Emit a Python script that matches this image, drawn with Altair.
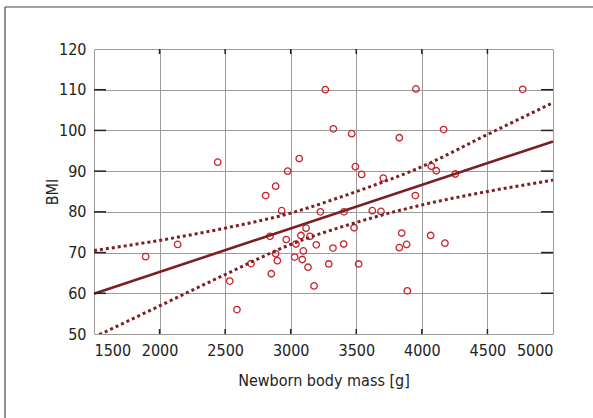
import altair as alt
import pandas as pd

# Newborn body mass [g] and BMI for each subject
mass = [3264, 3325, 2443, 3065, 2977, 2885, 3955, 4769, 3465, 3828,
        4166, 3493, 3541, 3706, 4072, 4110, 4255, 2809, 2931, 3226,
        3117, 3078, 3147, 2842, 2966, 2138, 3040, 3195, 3322, 3096,
        2885, 1894, 3030, 3088, 2898, 2697, 3290, 3132, 2852, 2535,
        3178, 2590, 3950, 3406, 3622, 3688, 3483, 3846, 4067, 3404,
        3828, 3884, 4176, 3518, 3889]
bmi = [110.0, 100.4, 92.2, 93.1, 90.0, 86.3, 110.2, 110.1, 99.2, 98.2,
       100.2, 91.1, 89.2, 88.3, 91.2, 90.1, 89.3, 84.0, 80.3, 80.0,
       76.0, 74.2, 74.0, 74.0, 73.2, 72.0, 72.1, 71.9, 71.1, 70.4,
       69.7, 69.0, 68.9, 68.3, 68.0, 67.3, 67.2, 66.4, 64.8, 63.0,
       61.8, 56.0, 84.0, 80.0, 80.3, 80.1, 76.1, 74.8, 74.2, 72.1,
       71.2, 72.0, 72.3, 67.2, 60.6]

# Fitted regression line (end points)
fit_x = [1500, 5000]
fit_y = [59.9, 97.3]

# Confidence band read at each grid position
band_x = [1500, 2000, 2500, 3000, 3500, 4000, 4500, 5000]
band_upper = [70.5, 73.0, 76.0, 79.7, 85.0, 91.1, 99.0, 106.8]
band_lower = [49.2, 56.9, 64.6, 72.0, 77.4, 81.7, 85.0, 87.8]

x_ticks = [1500, 2000, 2500, 3000, 3500, 4000, 4500, 5000]
y_ticks = [50, 60, 70, 80, 90, 100, 110, 120]

FONT = "'DejaVu Sans Condensed', 'Liberation Sans Narrow', 'Noto Sans', sans-serif"
FS = 16
W, H = 459, 285
PAD_L, PAD_T = 94, 49

pts = pd.DataFrame({"mass": mass, "bmi": bmi})
fit = pd.DataFrame({"mass": fit_x, "bmi": fit_y})
band = pd.DataFrame({"mass": band_x, "up": band_upper, "lo": band_lower})
xt = pd.DataFrame({"v": x_ticks[1:-1]})
yt = pd.DataFrame({"v": y_ticks[1:-1]})
one = pd.DataFrame({"k": [0]})

xscale = alt.Scale(domain=[1500, 5000], nice=False, zero=False)
yscale = alt.Scale(domain=[50, 120], nice=False, zero=False)

x_axis = alt.Axis(values=x_ticks, format="d", grid=True, gridColor="#9c9c9c",
                  gridWidth=1, domain=False, ticks=False, labelPadding=8,
                  labelFont=FONT, labelFontSize=FS, labelColor="#222",
                  title="Newborn body mass [g]", titleFont=FONT,
                  titleFontSize=FS, titleFontWeight="normal", titleColor="#222",
                  titleY=46, titleBaseline="middle")
y_axis = alt.Axis(values=y_ticks, format="d", grid=True, gridColor="#9c9c9c",
                  gridWidth=1, domain=False, ticks=False, labelPadding=8,
                  labelFont=FONT, labelFontSize=FS, labelColor="#222",
                  title="BMI", titleFont=FONT, titleFontSize=FS,
                  titleFontWeight="normal", titleColor="#222",
                  titleX=-42, titleY=H / 2, titleBaseline="middle",
                  titleAlign="center", titleAngle=270)

X = alt.X("mass:Q", scale=xscale, axis=x_axis)
Y = alt.Y("bmi:Q", scale=yscale, axis=y_axis)

points = alt.Chart(pts).mark_point(
    shape="circle", filled=False, size=42, strokeWidth=1.3, color="#c8222b", opacity=1
).encode(x=X, y=Y)

line = alt.Chart(fit).mark_line(color="#7b1f1f", strokeWidth=2.6).encode(
    x=alt.X("mass:Q", scale=xscale), y=alt.Y("bmi:Q", scale=yscale))

dot_style = dict(color="#7b1f1f", strokeWidth=3, strokeDash=[3, 3],
                 strokeCap="butt", interpolate="monotone", clip=True)
upper = alt.Chart(band).mark_line(**dot_style).encode(
    x=alt.X("mass:Q", scale=xscale), y=alt.Y("up:Q", scale=yscale))
lower = alt.Chart(band).mark_line(**dot_style).encode(
    x=alt.X("mass:Q", scale=xscale), y=alt.Y("lo:Q", scale=yscale))

tick_color = "#222"
left_ticks = alt.Chart(yt).mark_rule(color=tick_color, strokeWidth=1.5).encode(
    y=alt.Y("v:Q", scale=yscale), x=alt.value(0), x2=alt.value(12))
right_ticks = alt.Chart(yt).mark_rule(color=tick_color, strokeWidth=1.5).encode(
    y=alt.Y("v:Q", scale=yscale), x=alt.value(W - 12), x2=alt.value(W))
top_ticks = alt.Chart(xt).mark_rule(color=tick_color, strokeWidth=1.5).encode(
    x=alt.X("v:Q", scale=xscale), y=alt.value(0), y2=alt.value(5))
bottom_ticks = alt.Chart(xt).mark_rule(color=tick_color, strokeWidth=1.5).encode(
    x=alt.X("v:Q", scale=xscale), y=alt.value(H - 5), y2=alt.value(H))

# Outer figure frame (top and left edges)
frame_left = alt.Chart(one).mark_rule(color="#444", strokeWidth=1.2).encode(
    x=alt.value(5 - PAD_L), y=alt.value(7 - PAD_T), y2=alt.value(418 - PAD_T))
frame_top = alt.Chart(one).mark_rule(color="#444", strokeWidth=1.2).encode(
    y=alt.value(7 - PAD_T), x=alt.value(5 - PAD_L), x2=alt.value(593 - PAD_L))

chart = alt.layer(
    points, line, upper, lower,
    left_ticks, right_ticks, top_ticks, bottom_ticks,
    frame_left, frame_top,
).properties(
    width=W, height=H,
    padding={"left": PAD_L, "top": PAD_T, "right": 593 - PAD_L - W, "bottom": 418 - PAD_T - H},
    autosize=alt.AutoSizeParams(type="none"),
).configure_view(
    stroke="#222", strokeWidth=1.5
).configure(background="white")

chart.save("out.html", embed_options={"renderer": "svg", "actions": False})
